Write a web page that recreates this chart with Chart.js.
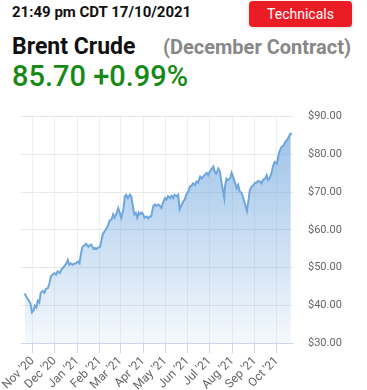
<!DOCTYPE html>
<html>
<head>
<meta charset="utf-8">
<script src="https://cdn.jsdelivr.net/npm/chart.js@4"></script>
<style>
  html, body { margin: 0; padding: 0; background: #fff; }
  body { width: 367px; height: 390px; position: relative; overflow: hidden; font-family: Roboto, Arial, sans-serif; }
  .stamp { position: absolute; left: 12px; top: 3px; font-size: 15px; font-weight: 700; color: #111; }
  .btn { position: absolute; left: 249px; top: 1px; width: 103px; height: 26px; background: #ec1c24; color: #fff;
         border-radius: 4px; font-size: 14px; line-height: 26px; text-align: center; box-shadow: 0 1px 4px rgba(0,0,0,0.15); }
  .name { position: absolute; left: 12px; top: 33px; font-size: 23px; font-weight: 700; color: #111; }
  .contract { position: absolute; left: 163px; top: 35px; font-size: 20px; font-weight: 700; color: #888; }
  .quote { position: absolute; left: 12px; top: 59px; font-size: 29px; font-weight: 500; color: #168a16; }
  #wrap { position: absolute; left: 0; top: 95px; width: 367px; height: 295px; }
</style>
</head>
<body>
<div class="stamp">21:49 pm CDT 17/10/2021</div>
<div class="btn">Technicals</div>
<div class="name">Brent Crude</div>
<div class="contract">(December Contract)</div>
<div class="quote">85.70 +0.99%</div>
<div id="wrap"><canvas id="chart" width="367" height="295"></canvas></div>
<script>
// ---------- Data ----------
// day = days since 1 Nov 2020, price = Brent settle in USD
const DAY = [-11, -8, -5, -3, -1, 1, 3, 5, 7, 9, 11, 14, 16, 18, 21, 23, 25, 27, 30, 32,
  34, 37, 39, 41, 43, 46, 48, 50, 52, 55, 57, 59, 62, 64, 66, 68, 71, 73, 76, 78,
  80, 83, 85, 87, 89, 92, 94, 96, 99, 101, 103, 105, 108, 110, 112, 115, 117, 119, 121, 124,
  126, 128, 130, 133, 135, 137, 139, 141, 143, 145, 146, 149, 151, 153, 156, 158, 160, 162, 165, 167,
  169, 172, 174, 176, 178, 181, 183, 185, 188, 190, 192, 194, 197, 199, 201, 204, 206, 208, 210, 213,
  215, 217, 219, 222, 224, 226, 229, 231, 233, 235, 238, 240, 242, 245, 247, 249, 251, 254, 256, 258,
  260, 262, 263, 265, 267, 270, 272, 274, 277, 279, 281, 283, 286, 288, 290, 293, 295, 297, 299, 302,
  304, 306, 308, 311, 313, 315, 318, 320, 322, 324, 327, 329, 331, 334, 336, 338, 340, 343, 345, 347,
  350, 352, 353];
const PRICE = [43.1, 42.0, 41.2, 40.4, 38.1, 38.6, 39.9, 39.4, 41.2, 40.7, 43.3, 43.8, 43.3, 44.3, 44.6, 45.9, 47.7, 48.1, 48.5, 48.1,
  49.0, 48.5, 49.4, 49.8, 50.3, 51.1, 52.0, 50.7, 51.1, 50.7, 51.1, 51.1, 51.6, 51.1, 53.7, 55.5, 55.9, 56.3, 55.5, 55.9,
  56.1, 55.0, 55.2, 54.9, 55.2, 55.5, 57.2, 58.9, 59.8, 60.4, 61.1, 62.4, 62.8, 64.1, 63.2, 64.5, 65.8, 64.5, 63.2, 65.4,
  68.9, 69.3, 68.4, 69.3, 68.7, 66.3, 64.1, 64.5, 63.2, 64.5, 64.1, 64.6, 64.1, 63.2, 63.5, 63.0, 63.5, 63.5, 66.3, 66.7,
  66.3, 66.7, 66.3, 65.8, 67.1, 68.4, 68.0, 68.9, 68.4, 69.0, 68.4, 69.3, 68.9, 69.3, 65.4, 66.7, 67.6, 68.0, 69.3, 70.2,
  71.5, 71.6, 72.3, 71.9, 72.8, 72.5, 74.1, 73.6, 74.1, 74.5, 75.1, 74.5, 75.4, 76.2, 76.8, 75.4, 74.9, 76.2, 75.4, 72.8,
  70.6, 68.4, 71.5, 73.6, 73.2, 73.6, 75.1, 74.1, 72.3, 71.0, 71.9, 70.2, 69.7, 68.4, 67.1, 65.0, 67.6, 70.6, 71.3, 71.9,
  72.5, 72.5, 72.9, 72.8, 72.3, 73.2, 73.6, 74.5, 73.2, 73.6, 75.4, 77.1, 78.0, 77.5, 79.7, 81.0, 81.9, 82.3, 83.2, 83.6,
  84.5, 85.3, 85.7];

// month starts, in the same day units
const MONTH_TICKS = [0, 30, 61, 92, 120, 151, 181, 212, 242, 273, 304, 334];
const MONTH_LABELS = ["Nov '20", "Dec '20", "Jan '21", "Feb '21", "Mar '21", "Apr '21",
  "May '21", "Jun '21", "Jul '21", "Aug '21", "Sep '21", "Oct '21"];
const Y_MIN = 30, Y_MAX = 90, Y_STEP = 10;

const fmtMoney = (n) => '$' + n.toFixed(2);

// ---------- Chart ----------
const points = DAY.map((d, i) => ({ x: d, y: PRICE[i] }));

function areaGradient(ctx) {
  const area = ctx.chart.chartArea;
  if (!area) return 'rgba(111,166,222,0.4)';
  const g = ctx.chart.ctx.createLinearGradient(0, area.top, 0, area.bottom);
  g.addColorStop(0, 'rgba(111,166,222,0.72)');
  g.addColorStop(1, 'rgba(111,166,222,0.07)');
  return g;
}

new Chart(document.getElementById('chart'), {
  type: 'line',
  data: {
    datasets: [{
      data: points,
      borderColor: '#6fa6de',
      borderWidth: 2,
      backgroundColor: areaGradient,
      fill: 'start',
      pointRadius: 0,
      tension: 0
    }]
  },
  options: {
    responsive: false,
    animation: false,
    layout: { padding: { left: 21, top: 17, right: 0, bottom: 0 } },
    plugins: { legend: { display: false }, tooltip: { enabled: false } },
    scales: {
      x: {
        type: 'linear',
        min: -16,
        max: 356,
        afterBuildTicks: (axis) => { axis.ticks = MONTH_TICKS.map(v => ({ value: v })); },
        afterFit: (axis) => { axis.height = 47; },
        grid: { color: '#efefef', tickColor: '#ccd6eb', tickLength: 10 },
        border: { color: '#ccd6eb' },
        ticks: {
          autoSkip: false,
          minRotation: 45,
          maxRotation: 45,
          color: '#666',
          font: { family: 'Roboto', size: 12 },
          padding: 1,
          callback: (v) => MONTH_LABELS[MONTH_TICKS.indexOf(v)]
        }
      },
      y: {
        position: 'right',
        min: Y_MIN,
        max: Y_MAX,
        afterFit: (axis) => { axis.width = 74; },
        grid: { color: '#e8e8e8', drawTicks: false },
        border: { display: false },
        ticks: { stepSize: Y_STEP, color: '#666', font: { family: 'Roboto', size: 11 }, padding: 15, callback: (v) => fmtMoney(v) }
      }
    }
  }
});
</script>
</body>
</html>
